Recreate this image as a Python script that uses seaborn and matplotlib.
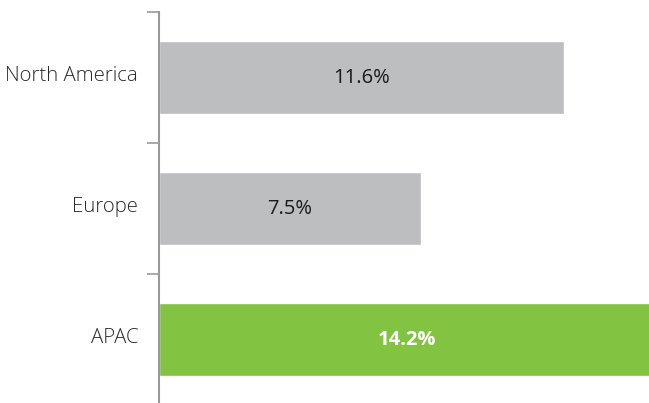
import matplotlib
matplotlib.use("Agg")
import matplotlib.pyplot as plt
import seaborn as sns
import pandas as pd
from matplotlib.ticker import FixedLocator

regions = ["North America", "Europe", "APAC"]
growth = [11.6, 7.5, 14.2]
bar_colors = ["#bdbec0", "#bdbec0", "#82c341"]
label_colors = ["#1a1a1a", "#1a1a1a", "#ffffff"]
label_weights = ["normal", "normal", "bold"]

sns.set_style("white")
plt.rcParams["font.family"] = ["Open Sans", "DejaVu Sans"]

df = pd.DataFrame({"region": regions, "growth": growth})

fig = plt.figure(figsize=(6.49, 4.03), dpi=100)
ax = fig.add_axes([159 / 649, -2 / 403, 1 - 159 / 649, 393 / 403])

sns.barplot(data=df, x="growth", y="region", hue="region", palette=bar_colors,
            width=0.55, saturation=1, legend=False, ax=ax)

ax.set_xlim(0, 14.05)
ax.set_ylim(2.5, -0.5)
ax.set_xlabel("")
ax.set_ylabel("")

# category boundaries carry the tick marks, labels sit between them
ax.yaxis.set_major_locator(FixedLocator([-0.5, 0.5, 1.5, 2.5]))
ax.yaxis.set_minor_locator(FixedLocator([-0.03, 0.97, 1.97]))
ax.set_yticklabels([], minor=False)
ax.set_yticklabels(regions, minor=True, fontsize=14.7, fontweight="light", color="#2a2a2a")
ax.tick_params(axis="y", which="major", length=9, width=1.2, color="#999999", left=True)
ax.tick_params(axis="y", which="minor", length=0, pad=15)
ax.set_xticks([])

for side in ["top", "right", "bottom"]:
    ax.spines[side].set_visible(False)
ax.spines["left"].set_color("#999999")
ax.spines["left"].set_linewidth(1.5)

for i, (v, c, w) in enumerate(zip(growth, label_colors, label_weights)):
    ax.text(v / 2, i, f"{v}%", ha="center", va="center", fontsize=14.5,
            color=c, fontweight=w)

fig.savefig("out.png", dpi=100)
